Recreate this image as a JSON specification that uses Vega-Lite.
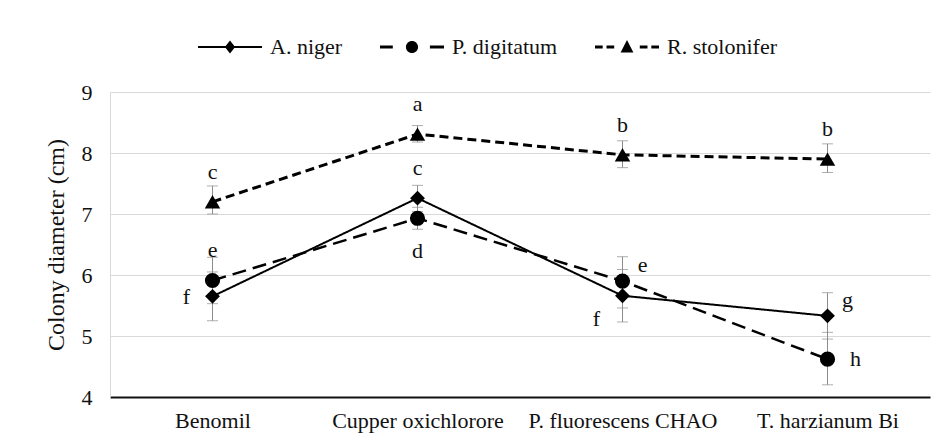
{
  "$schema": "https://vega.github.io/schema/vega-lite/v6.json",
  "width": 820,
  "height": 305,
  "autosize": {"type": "none"},
  "padding": {"left": 110, "top": 92, "right": 13, "bottom": 50},
  "background": "white",
  "config": {
    "font": "Liberation Serif, Times New Roman, serif",
    "view": {"stroke": null},
    "axis": {"labelFont": "Liberation Serif, Times New Roman, serif", "titleFont": "Liberation Serif, Times New Roman, serif"},
    "legend": {"labelFont": "Liberation Serif, Times New Roman, serif"},
    "text": {"font": "Liberation Serif, Times New Roman, serif", "fontSize": 22, "color": "#111"}
  },
  "data": {
    "values": [
      {"treatment": "Benomil", "series": "A. niger", "mean": 5.65, "lo": 5.25, "hi": 6.05, "letter": "f"},
      {"treatment": "Cupper oxichlorore", "series": "A. niger", "mean": 7.26, "lo": 7.04, "hi": 7.47, "letter": "c"},
      {"treatment": "P. fluorescens CHAO", "series": "A. niger", "mean": 5.66, "lo": 5.23, "hi": 6.09, "letter": "f"},
      {"treatment": "T. harzianum Bi", "series": "A. niger", "mean": 5.33, "lo": 4.95, "hi": 5.71, "letter": "g"},
      {"treatment": "Benomil", "series": "P. digitatum", "mean": 5.91, "lo": 5.53, "hi": 6.29, "letter": "e"},
      {"treatment": "Cupper oxichlorore", "series": "P. digitatum", "mean": 6.93, "lo": 6.75, "hi": 7.11, "letter": "d"},
      {"treatment": "P. fluorescens CHAO", "series": "P. digitatum", "mean": 5.9, "lo": 5.46, "hi": 6.3, "letter": "e"},
      {"treatment": "T. harzianum Bi", "series": "P. digitatum", "mean": 4.62, "lo": 4.2, "hi": 5.06, "letter": "h"},
      {"treatment": "Benomil", "series": "R. stolonifer", "mean": 7.2, "lo": 7.0, "hi": 7.46, "letter": "c"},
      {"treatment": "Cupper oxichlorore", "series": "R. stolonifer", "mean": 8.31, "lo": 8.18, "hi": 8.45, "letter": "a"},
      {"treatment": "P. fluorescens CHAO", "series": "R. stolonifer", "mean": 7.97, "lo": 7.76, "hi": 8.2, "letter": "b"},
      {"treatment": "T. harzianum Bi", "series": "R. stolonifer", "mean": 7.9, "lo": 7.68, "hi": 8.15, "letter": "b"}
    ]
  },
  "encoding": {
    "x": {
      "field": "treatment",
      "type": "nominal",
      "sort": ["Benomil", "Cupper oxichlorore", "P. fluorescens CHAO", "T. harzianum Bi"],
      "scale": {"type": "point", "padding": 0.5},
      "axis": {
        "title": null,
        "labelAngle": 0,
        "labelFont": "Liberation Serif, Times New Roman, serif",
        "labelFontSize": 22,
        "labelColor": "#111",
        "labelPadding": 13,
        "labelLimit": 0,
        "ticks": false,
        "domainColor": "#111",
        "domainWidth": 2,
        "grid": false
      }
    }
  },
  "layer": [
    {
      "mark": {"type": "errorbar", "ticks": {"size": 11, "color": "#8c8c8c"}, "rule": {"color": "#8c8c8c", "strokeWidth": 1}},
      "encoding": {
        "y": {
          "field": "lo",
          "type": "quantitative",
          "scale": {"domain": [4, 9], "nice": false, "zero": false},
          "axis": {
            "title": "Colony diameter (cm)",
            "titleFont": "Liberation Serif, Times New Roman, serif",
            "titleFontSize": 24,
            "titleFontWeight": "normal",
            "titleColor": "#111",
            "titlePadding": 13,
            "values": [4, 5, 6, 7, 8, 9],
            "format": "d",
            "labelFont": "Liberation Serif, Times New Roman, serif",
            "labelFontSize": 22,
            "labelColor": "#111",
            "labelPadding": 18,
            "ticks": false,
            "domainColor": "#d9d9d9",
            "gridColor": "#d9d9d9",
            "gridWidth": 1.2
          }
        },
        "y2": {"field": "hi"},
        "detail": {"field": "series"}
      }
    },
    {
      "mark": {"type": "line", "color": "#000"},
      "encoding": {
        "y": {"field": "mean", "type": "quantitative"},
        "detail": {"field": "series"},
        "strokeDash": {
          "field": "series",
          "type": "nominal",
          "scale": {"domain": ["A. niger", "P. digitatum", "R. stolonifer"], "range": [[1, 0], [14, 7], [9, 5]]},
          "legend": null
        },
        "strokeWidth": {
          "field": "series",
          "type": "nominal",
          "scale": {"domain": ["A. niger", "P. digitatum", "R. stolonifer"], "range": [2, 3, 3]},
          "legend": null
        }
      }
    },
    {
      "mark": {"type": "point", "filled": true, "color": "#000", "opacity": 1},
      "encoding": {
        "y": {"field": "mean", "type": "quantitative"},
        "shape": {
          "field": "series",
          "type": "nominal",
          "scale": {"domain": ["A. niger", "P. digitatum", "R. stolonifer"], "range": ["diamond", "circle", "triangle-up"]},
          "legend": null
        },
        "size": {
          "field": "series",
          "type": "nominal",
          "scale": {"domain": ["A. niger", "P. digitatum", "R. stolonifer"], "range": [220, 240, 230]},
          "legend": null
        }
      }
    },
    {
      "mark": {"type": "point", "filled": true, "color": "#000", "opacity": 0, "size": 4096, "strokeWidth": 0},
      "encoding": {
        "y": {"field": "mean", "type": "quantitative"},
        "shape": {
          "field": "series",
          "type": "nominal",
          "scale": {
            "domain": ["A. niger", "P. digitatum", "R. stolonifer"],
            "range": [
              "M-1,-0.03H1V0.03H-1Z M0,-0.2L0.16,0L0,0.2L-0.16,0Z",
              "M-1,-0.05H-0.6V0.05H-1Z M-0.19,0A0.19,0.19 0 1,0 0.19,0A0.19,0.19 0 1,0 -0.19,0Z M0.56,-0.05H1V0.05H0.56Z",
              "M-1,-0.05H-0.76V0.05H-1Z M-0.64,-0.05H-0.4V0.05H-0.64Z M0,-0.22L0.2,0.17L-0.2,0.17Z M0.4,-0.05H0.64V0.05H0.4Z M0.76,-0.05H1V0.05H0.76Z"
            ]
          },
          "legend": {
            "title": null,
            "orient": "none",
            "direction": "horizontal",
            "legendX": 88,
            "legendY": -77,
            "padding": 0,
            "columnPadding": 37,
            "labelOffset": 8,
            "labelFont": "Liberation Serif, Times New Roman, serif",
            "labelFontSize": 22,
            "labelColor": "#111",
            "symbolSize": 4096,
            "symbolOpacity": 1,
            "symbolFillColor": "#000",
            "symbolStrokeWidth": 0
          }
        }
      }
    },
    {
      "transform": [{"filter": "datum.series === 'R. stolonifer' || (datum.series === 'A. niger' && datum.treatment === 'Cupper oxichlorore') || (datum.series === 'P. digitatum' && datum.treatment === 'Benomil')"}],
      "mark": {"type": "text", "baseline": "middle", "align": "center", "dy": -30},
      "encoding": {"y": {"field": "mean", "type": "quantitative"}, "text": {"field": "letter"}}
    },
    {
      "transform": [{"filter": "datum.series === 'P. digitatum' && datum.treatment === 'Cupper oxichlorore'"}],
      "mark": {"type": "text", "baseline": "middle", "align": "center", "dy": 33},
      "encoding": {"y": {"field": "mean", "type": "quantitative"}, "text": {"field": "letter"}}
    },
    {
      "transform": [{"filter": "datum.series === 'A. niger' && datum.treatment === 'Benomil'"}],
      "mark": {"type": "text", "baseline": "middle", "align": "center", "dx": -26, "dy": 1},
      "encoding": {"y": {"field": "mean", "type": "quantitative"}, "text": {"field": "letter"}}
    },
    {
      "transform": [{"filter": "datum.series === 'A. niger' && datum.treatment === 'P. fluorescens CHAO'"}],
      "mark": {"type": "text", "baseline": "middle", "align": "center", "dx": -26, "dy": 23},
      "encoding": {"y": {"field": "mean", "type": "quantitative"}, "text": {"field": "letter"}}
    },
    {
      "transform": [{"filter": "(datum.series === 'P. digitatum' && datum.treatment === 'P. fluorescens CHAO') || (datum.series === 'A. niger' && datum.treatment === 'T. harzianum Bi')"}],
      "mark": {"type": "text", "baseline": "middle", "align": "center", "dx": 20, "dy": -16},
      "encoding": {"y": {"field": "mean", "type": "quantitative"}, "text": {"field": "letter"}}
    },
    {
      "transform": [{"filter": "datum.series === 'P. digitatum' && datum.treatment === 'T. harzianum Bi'"}],
      "mark": {"type": "text", "baseline": "middle", "align": "center", "dx": 28, "dy": 0},
      "encoding": {"y": {"field": "mean", "type": "quantitative"}, "text": {"field": "letter"}}
    }
  ],
  "resolve": {"scale": {"shape": "independent", "size": "independent"}}
}
